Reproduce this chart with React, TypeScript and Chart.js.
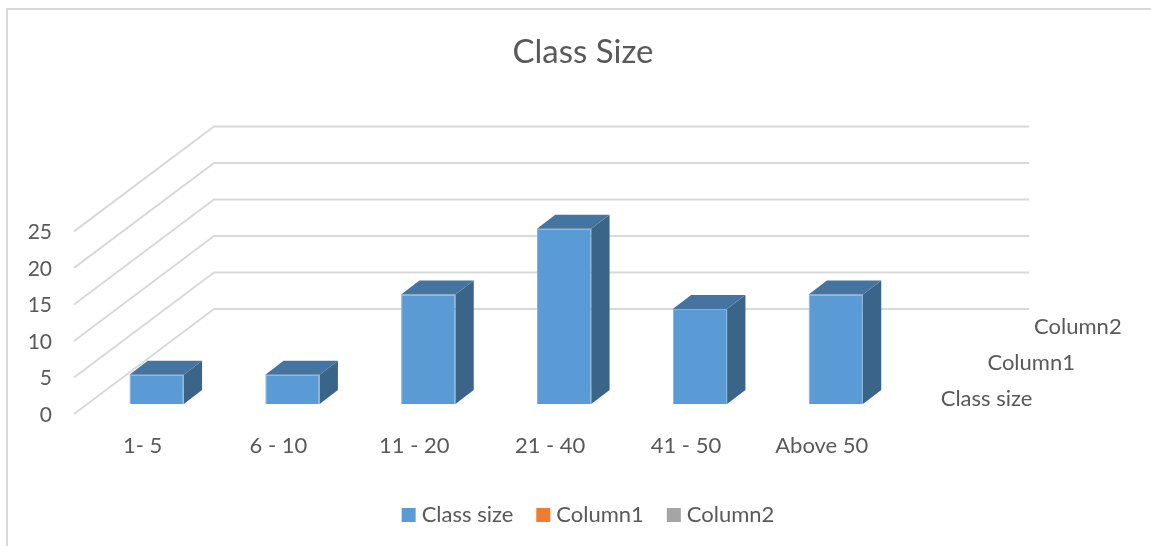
import React, { useEffect, useRef } from "react";
import { Chart, registerables } from "chart.js";

Chart.register(...registerables);

const categories = ["1- 5", "6 - 10", "11 - 20", "21 - 40", "41 - 50", "Above 50"];
const classSize = [4, 4, 15, 24, 13, 15];
const column1: number[] = [];
const column2: number[] = [];
const seriesNames = ["Class size", "Column1", "Column2"];
const seriesColors = ["#5B9BD5", "#ED7D31", "#A5A5A5"];

const FONT = "Lato";
const TEXT = "#595959";
const GRID = "#D9D9D9";
const W = 1166;
const H = 546;

const scene3d = {
  id: "scene3d",
  afterLayout(chart: any) {
    chart.legend.left += 15;
  },
  beforeDatasetsDraw(chart: any) {
    const { ctx, chartArea: a, scales } = chart;
    const y = scales.y;
    ctx.save();
    ctx.strokeStyle = GRID;
    ctx.lineWidth = 2;
    ctx.beginPath();
    ctx.moveTo(7, H);
    ctx.lineTo(7, 9);
    ctx.lineTo(W, 9);
    ctx.stroke();
    for (const t of y.ticks) {
      const p = y.getPixelForValue(t.value);
      ctx.beginPath();
      ctx.moveTo(a.left - 14.7, p + 10);
      ctx.lineTo(a.left + 125.3, p - 95);
      ctx.lineTo(a.right + 125.5, p - 95);
      ctx.stroke();
    }
    ctx.restore();
  },
  afterDatasetsDraw(chart: any) {
    const { ctx, chartArea: a } = chart;
    const dx = 18.3;
    const dy = 14;
    ctx.save();
    for (const bar of chart.getDatasetMeta(0).data) {
      const l = bar.x - bar.width / 2;
      const r = bar.x + bar.width / 2;
      const top = bar.y;
      const base = bar.base;
      ctx.fillStyle = "#3A6488";
      ctx.beginPath();
      ctx.moveTo(r, base);
      ctx.lineTo(r + dx, base - dy);
      ctx.lineTo(r + dx, top - dy);
      ctx.lineTo(r, top);
      ctx.closePath();
      ctx.fill();
      ctx.fillStyle = "#44749F";
      ctx.beginPath();
      ctx.moveTo(l, top);
      ctx.lineTo(l + dx, top - dy);
      ctx.lineTo(r + dx, top - dy);
      ctx.lineTo(r, top);
      ctx.closePath();
      ctx.fill();
    }
    ctx.fillStyle = TEXT;
    ctx.font = `22px ${FONT}`;
    ctx.textAlign = "left";
    ctx.textBaseline = "middle";
    seriesNames.forEach((name, i) => {
      ctx.fillText(name, a.right + 37 + i * 46.7, a.bottom - 5 - i * 36);
    });
    ctx.restore();
  },
};

export default function App() {
  const ref = useRef<HTMLCanvasElement>(null);
  useEffect(() => {
    const chart = new Chart(ref.current as HTMLCanvasElement, {
      type: "bar",
      data: {
        labels: categories,
        datasets: [classSize, column1, column2].map((data, i) => ({
          label: seriesNames[i],
          data,
          backgroundColor: seriesColors[i],
          borderColor: "#7FB2E0",
          borderWidth: 1,
          grouped: false,
          barPercentage: 0.4,
          categoryPercentage: 1,
        })),
      },
      options: {
        responsive: false,
        animation: false,
        devicePixelRatio: 1,
        layout: { padding: { bottom: 10 } },
        plugins: {
          tooltip: { enabled: false },
          title: {
            display: true,
            text: "Class Size",
            color: TEXT,
            font: { family: FONT, size: 33, weight: "normal" },
            padding: { top: 33, bottom: 148.8 },
          },
          legend: {
            position: "bottom",
            labels: {
              color: TEXT,
              font: { family: FONT, size: 22 },
              usePointStyle: true,
              pointStyle: "rect",
              boxWidth: 4,
              boxHeight: 14,
              padding: 28,
              generateLabels: (c: any) =>
                c.data.datasets.map((d: any, i: number) => ({
                  text: d.label,
                  fillStyle: d.backgroundColor,
                  strokeStyle: d.backgroundColor,
                  lineWidth: 0,
                  pointStyle: "rect",
                  fontColor: TEXT,
                  datasetIndex: i,
                })),
            },
          },
        },
        scales: {
          x: {
            grid: { display: false, drawTicks: false },
            border: { display: false },
            ticks: {
              color: TEXT,
              font: { family: FONT, size: 22 },
              padding: 29,
              labelOffset: -14,
              maxRotation: 0,
              autoSkip: false,
            },
            afterFit: (s: any) => {
              s.height = 72;
            },
          },
          y: {
            min: 0,
            max: 25,
            grid: { display: false, drawTicks: false },
            border: { display: false },
            ticks: {
              stepSize: 5,
              color: TEXT,
              font: { family: FONT, size: 21 },
              padding: 36.7,
              labelOffset: 11,
            },
            afterFit: (s: any) => {
              s.width = 88.7;
            },
          },
          spacer: {
            axis: "y",
            position: "right",
            min: 0,
            max: 1,
            grid: { display: false, drawTicks: false },
            border: { display: false },
            ticks: { display: false },
            afterFit: (s: any) => {
              s.width = W - 903.7;
            },
          },
        },
      } as any,
      plugins: [scene3d],
    });
    return () => chart.destroy();
  }, []);
  return (
    <div style={{ position: "fixed", left: 0, top: 0, width: 1151, height: H, overflow: "hidden", background: "#fff" }}>
      <canvas ref={ref} width={W} height={H} style={{ display: "block" }} />
    </div>
  );
}
